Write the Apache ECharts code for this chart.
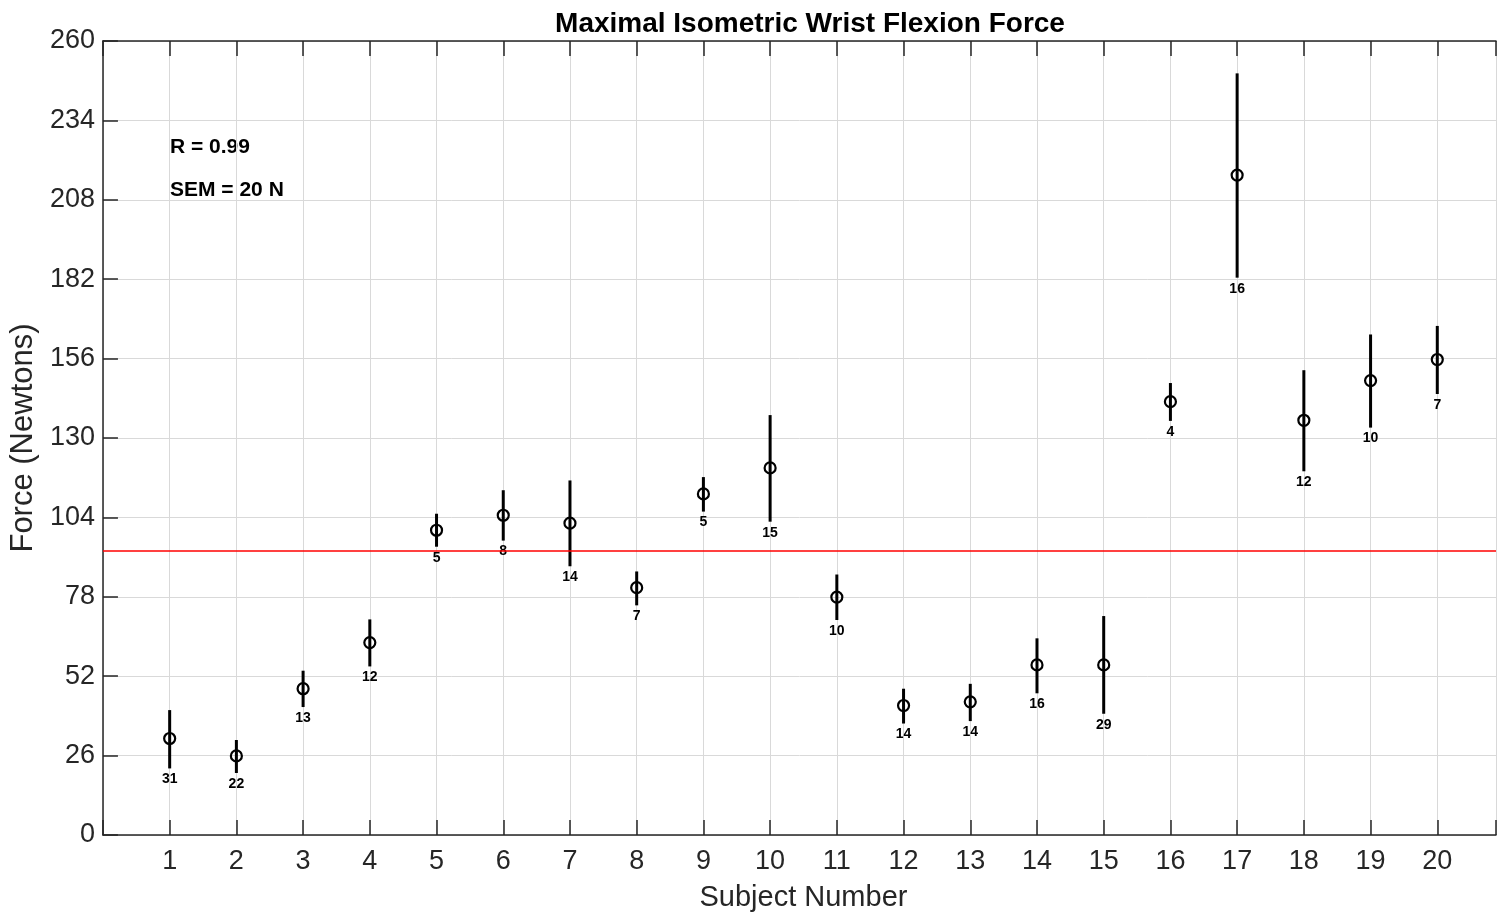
<!DOCTYPE html>
<html>
<head>
<meta charset="utf-8">
<script src="https://cdn.jsdelivr.net/npm/echarts@6/dist/echarts.min.js"></script>
<style>
  html, body { margin: 0; padding: 0; background: #fff; overflow: hidden; }
  #chart { width: 1499px; height: 917px; }
</style>
</head>
<body>
<div id="chart"></div>
<script>
// values
const subjects = [1, 2, 3, 4, 5, 6, 7, 8, 9, 10, 11, 12, 13, 14, 15, 16, 17, 18, 19, 20];
const meanForce = [31.6, 25.9, 47.9, 63.0, 99.8, 104.7, 102.1, 81.0, 111.7, 120.2, 77.9, 42.4, 43.6, 55.7, 55.7, 141.9, 216.1, 135.8, 148.8, 155.7];
const upperForce = [40.9, 31.1, 53.8, 70.6, 105.2, 112.9, 116.1, 86.3, 117.2, 137.5, 85.3, 47.9, 49.5, 64.4, 71.7, 148.0, 249.4, 152.2, 163.9, 166.7];
const lowerForce = [21.8, 20.3, 41.9, 55.2, 94.4, 96.4, 88.0, 75.2, 105.9, 102.6, 70.4, 36.5, 37.3, 46.4, 39.7, 135.6, 182.5, 119.1, 133.4, 144.4];
const cvLabels = [31, 22, 13, 12, 5, 8, 14, 7, 5, 15, 10, 14, 14, 16, 29, 4, 16, 12, 10, 7];
const refLine = 93;
const yTicks = [0, 26, 52, 78, 104, 130, 156, 182, 208, 234, 260];

const FONT = '"Liberation Sans", Arial, Helvetica, sans-serif';
const AXIS = '#262626';

var chart = echarts.init(document.getElementById('chart'));

const barData = subjects.map((s, i) => [s, lowerForce[i], upperForce[i], cvLabels[i]]);
const pointData = subjects.map((s, i) => [s, meanForce[i]]);

// the figure is cut off on the right, just short of x = 21
const xMax = 20.88;

var option = {
    animation: false,
    backgroundColor: '#fff',
    grid: { left: 102.5, right: 0, top: 41, bottom: 75.5 },
    title: {
        text: 'Maximal Isometric Wrist Flexion Force',
        left: 805, top: 5, textAlign: 'center',
        textStyle: { fontFamily: FONT, fontSize: 28, fontWeight: 'bold', color: '#000' }
    },
    graphic: [
        { type: 'text', left: 170, top: 137, style: { text: 'R = 0.99', font: 'bold 21px ' + FONT, fill: '#000' } },
        { type: 'text', left: 170, top: 180, style: { text: 'SEM = 20 N', font: 'bold 21px ' + FONT, fill: '#000' } }
    ],
    xAxis: [{
        type: 'value', min: 0, max: xMax, interval: 1,
        name: 'Subject Number', nameLocation: 'middle', nameGap: 48,
        nameTextStyle: { fontFamily: FONT, fontSize: 29, color: AXIS, padding: [0, 0, 0, 8] },
        axisLine: { show: true, onZero: false, lineStyle: { color: AXIS, width: 1.5 } },
        axisTick: { show: true, inside: true, length: 15, lineStyle: { color: AXIS, width: 1.5 } },
        axisLabel: {
            fontFamily: FONT, fontSize: 27, color: AXIS, margin: 13,
            formatter: v => (v >= 1 && v <= 20 && Number.isInteger(v)) ? String(v) : ''
        },
        splitLine: { show: true, lineStyle: { color: '#d9d9d9', width: 1 } }
    }, {
        type: 'value', min: 0, max: xMax, interval: 1, position: 'top',
        axisLine: { show: true, onZero: false, lineStyle: { color: AXIS, width: 1.5 } },
        axisTick: { show: true, inside: true, length: 15, lineStyle: { color: AXIS, width: 1.5 } },
        axisLabel: { show: false },
        splitLine: { show: false }
    }],
    yAxis: {
        type: 'value', min: 0, max: 260, interval: 26,
        name: 'Force (Newtons)', nameLocation: 'middle', nameGap: 50,
        nameTextStyle: { fontFamily: FONT, fontSize: 31, color: AXIS },
        axisLine: { show: true, lineStyle: { color: AXIS, width: 1.5 } },
        axisTick: { show: true, inside: true, length: 15, lineStyle: { color: AXIS, width: 1.5 } },
        axisLabel: {
            fontFamily: FONT, fontSize: 27, color: AXIS, margin: 8,
            formatter: v => yTicks.indexOf(v) >= 0 ? String(v) : ''
        },
        splitLine: { show: true, lineStyle: { color: '#d9d9d9', width: 1 } }
    },
    series: [{
        // error bars + number under each bar
        type: 'custom',
        data: barData,
        renderItem: function (params, api) {
            var x = api.value(0);
            var lo = api.coord([x, api.value(1)]);
            var hi = api.coord([x, api.value(2)]);
            return {
                type: 'group',
                children: [{
                    type: 'line',
                    shape: { x1: lo[0], y1: lo[1], x2: hi[0], y2: hi[1] },
                    style: { stroke: '#000', lineWidth: 3 }
                }, {
                    type: 'text',
                    x: lo[0], y: lo[1] + 4,
                    style: {
                        text: String(api.value(3)),
                        font: 'bold 14px ' + FONT,
                        fill: '#000', align: 'center', verticalAlign: 'top'
                    }
                }]
            };
        },
        z: 3
    }, {
        type: 'scatter',
        data: pointData,
        symbol: 'circle',
        symbolSize: 11,
        itemStyle: { color: 'rgba(0,0,0,0)', borderColor: '#000', borderWidth: 2.2, opacity: 1 },
        z: 4
    }, {
        type: 'line',
        data: [],
        markLine: {
            silent: true, symbol: 'none', label: { show: false },
            lineStyle: { color: '#ff0000', width: 1.5, type: 'solid' },
            data: [{ yAxis: refLine }]
        },
        z: 2
    }]
};

chart.setOption(option);
</script>
</body>
</html>
